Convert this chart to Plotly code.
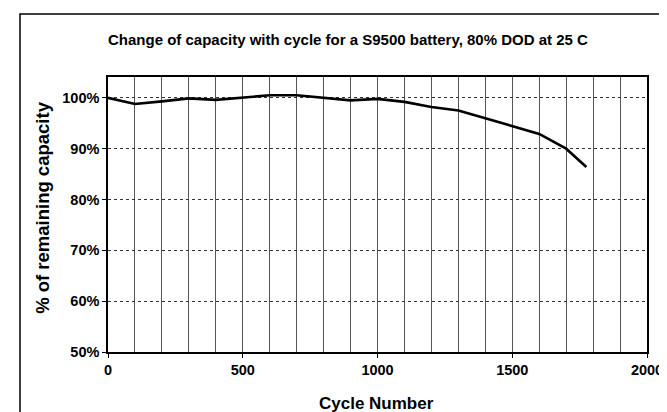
import plotly.graph_objects as go

cycles = [0, 100, 200, 300, 400, 500, 600, 700, 800, 900, 1000, 1100, 1200, 1300, 1400, 1500, 1600, 1700, 1775]
capacity = [1.000, 0.988, 0.993, 0.999, 0.996, 1.001, 1.005, 1.005, 1.000, 0.995, 0.998, 0.992, 0.982, 0.975, 0.960, 0.945, 0.929, 0.900, 0.864]

title_text = "Change of capacity with cycle for a S9500 battery, 80% DOD at 25 C"
x_title = "Cycle Number"
y_title = "% of remaining capacity"

W, H = 667, 412
L, R, T, B = 99.5, 25.5, 69, 68
pw, ph = W - L - R, H - T - B

def px(x):
    return (x - L) / pw

def py(y):
    return (H - B - y) / ph

FONT = "Liberation Sans, Arial, sans-serif"

fig = go.Figure()
fig.add_trace(go.Scatter(x=cycles, y=capacity, mode="lines",
                         line=dict(color="black", width=2.6), showlegend=False))

fig.update_layout(
    width=W, height=H,
    margin=dict(l=L, r=R, t=T, b=B),
    paper_bgcolor="white", plot_bgcolor="white",
    font=dict(family=FONT, color="black"),
    xaxis=dict(range=[0, 2000], dtick=500, tick0=0, ticks="outside", ticklen=4,
               tickcolor="black", showline=True, linecolor="black", linewidth=1.5,
               mirror=True, showgrid=True, gridcolor="#555555", gridwidth=1,
               minor=dict(dtick=100, showgrid=True, gridcolor="#555555", gridwidth=1),
               tickfont=dict(size=14.5, family=FONT, weight="bold"), zeroline=False),
    yaxis=dict(range=[0.5, 1.041], dtick=0.1, tick0=0.5, tickformat=".0%", ticks="outside",
               ticklen=4, tickcolor="black", showline=True, linecolor="black", linewidth=1.5,
               mirror=True, showgrid=True, gridcolor="#333333", gridwidth=1, griddash="dot",
               tickfont=dict(size=14.5, family=FONT, weight="bold"), zeroline=False),
    annotations=[
        dict(text="<b>" + title_text + "</b>", x=px(341), y=py(31), xref="paper", yref="paper",
             showarrow=False, font=dict(size=15, family=FONT), xanchor="center", yanchor="middle"),
        dict(text="<b>" + x_title + "</b>", x=px(369), y=py(395), xref="paper", yref="paper",
             showarrow=False, font=dict(size=17, family=FONT), xanchor="center", yanchor="middle"),
        dict(text="<b>" + y_title + "</b>", x=px(33), y=py(200), xref="paper", yref="paper",
             showarrow=False, font=dict(size=18.5, family=FONT), textangle=-90,
             xanchor="center", yanchor="middle"),
    ],
    shapes=[
        dict(type="rect", xref="paper", yref="paper", x0=px(11), x1=px(662), y0=py(6), y1=py(411),
             line=dict(color="black", width=1.5), fillcolor="rgba(0,0,0,0)", layer="below"),
    ],
)

fig.write_html("out.html")
